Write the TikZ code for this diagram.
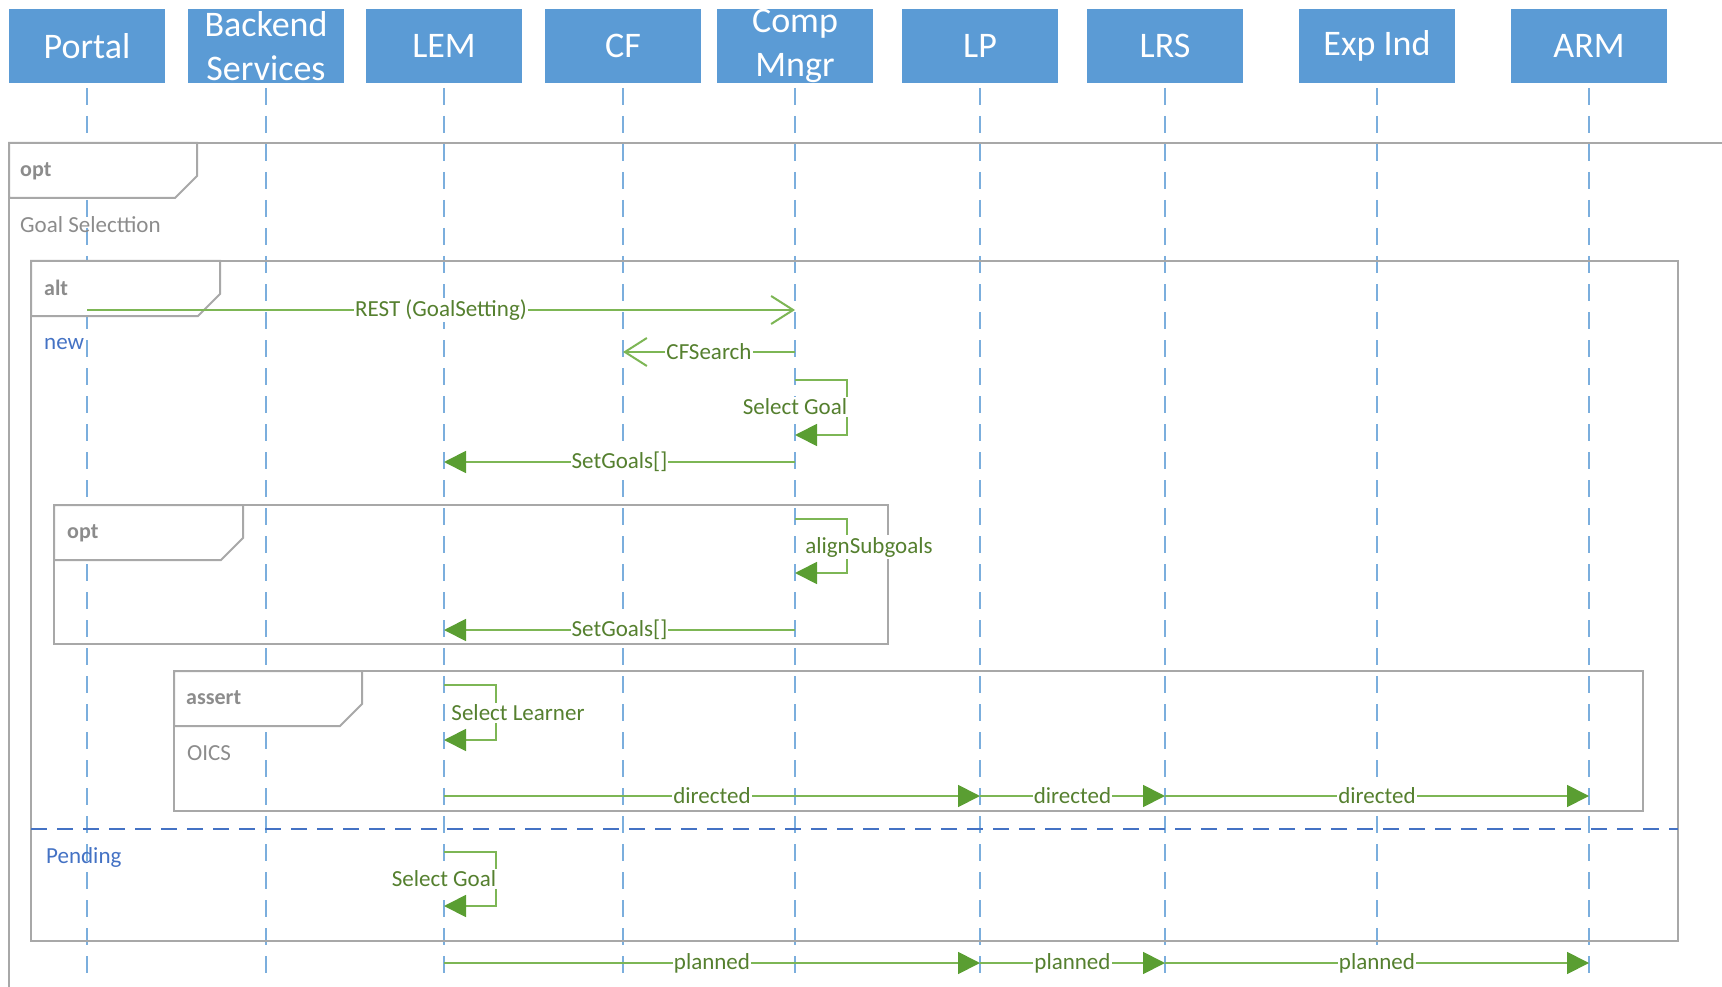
\documentclass[tikz,border=0pt]{standalone}
\usepackage{fontspec}
\setmainfont{Carlito}
\usetikzlibrary{arrows.meta}

\definecolor{headblue}{HTML}{5B9BD5}
\definecolor{lifeblue}{HTML}{7BAEDD}
\definecolor{guardblue}{HTML}{4472C4}
\definecolor{framegray}{HTML}{A8A8A8}
\definecolor{fragtextgray}{HTML}{8C8C8C}
\definecolor{msggreen}{HTML}{7DB655}
\definecolor{tipgreen}{HTML}{5A9E32}
\definecolor{labelgreen}{HTML}{55802F}

\tikzset{
  head/.style={fill=headblue, text=white, minimum width=156pt, minimum height=74pt,
               inner xsep=0pt, inner ysep=-5pt, align=center,
               font=\fontsize{36}{44}\selectfont},
  lifeline/.style={lifeblue, line width=2pt, dash pattern=on 17pt off 11pt},
  frameline/.style={framegray, line width=2pt},
  fragtab/.style={framegray, line width=2pt, fill=white},
  fragtext/.style={text=fragtextgray, anchor=west, inner sep=0pt,
                   font=\fontsize{22}{26}\selectfont\bfseries},
  fragnote/.style={text=fragtextgray, anchor=west, inner sep=0pt,
                   font=\fontsize{23}{27}\selectfont},
  guard/.style={text=guardblue, anchor=west, inner sep=0pt,
                font=\fontsize{23}{27}\selectfont},
  separator/.style={guardblue, line width=2pt, dash pattern=on 16pt off 10pt},
  msg/.style={msggreen, line width=1.8pt},
  sync/.style={msg, -{Triangle[length=22pt, width=22pt, color=tipgreen]}},
  async/.style={msg, -{Straight Barb[length=22pt, width=28pt, line width=2pt]}},
  msglabel/.style={fill=white, text=labelgreen, inner xsep=1pt, inner ysep=2pt,
                   font=\fontsize{23}{27}\selectfont},
}

\begin{document}
\begin{tikzpicture}[x=1pt, y=-1pt]
\useasboundingbox (0,0) rectangle (1722,987);

% participants
\node[head] (portal)  at (87,46)   {Portal};
\node[head] (backend) at (266,46)  {Backend\\Services};
\node[head] (lem)     at (444,46)  {LEM};
\node[head] (cf)      at (623,46)  {CF};
\node[head] (comp)    at (795,46)  {Comp\\Mngr};
\node[head] (lp)      at (980,46)  {LP};
\node[head] (lrs)     at (1165,46) {LRS};
\node[head] (expind)  at (1377,46) {Exp Ind};
\node[head] (arm)     at (1589,46) {ARM};

% lifelines
\foreach \p in {portal,backend,lem,cf,comp,lp,lrs,expind,arm}
  \draw[lifeline] (\p |- 0,88) -- (\p |- 0,981);

% outer opt fragment
\draw[frameline] (9,987) -- (9,143) -- (1722,143);
\draw[fragtab] (9,143) -- (197,143) -- (197,176) -- (175,198) -- (9,198) -- cycle;
\node[fragtext] (opttag) at (20,171) {opt};
\node[fragnote] (optnote) at (20,225) {Goal Selecttion};

% alt fragment
\draw[frameline] (31,261) rectangle (1678,941);
\draw[fragtab] (31,261) -- (220,261) -- (220,294) -- (198,316) -- (31,316) -- cycle;
\node[fragtext] (alttag) at (44,288) {alt};
\node[guard] (newguard) at (44,344) {new};
\draw[separator] (31,829) -- (1678,829);
\node[guard] (pendguard) at (46,857) {Pending};

% inner opt fragment
\draw[frameline] (54,505) rectangle (888,644);
\draw[fragtab] (54,505) -- (243,505) -- (243,538) -- (221,560) -- (54,560) -- cycle;
\node[fragtext] (opttag2) at (67,533) {opt};

% assert fragment
\draw[frameline] (174,671) rectangle (1643,811);
\draw[fragtab] (174,671) -- (362,671) -- (362,704) -- (340,726) -- (174,726) -- cycle;
\node[fragtext] (asserttag) at (186,698) {assert};
\node[fragnote] (assertnote) at (187,753) {OICS};

% messages
\draw[async] (portal |- 0,310) -- node[msglabel] (rest) {REST (GoalSetting)} (comp |- 0,310);
\draw[async] (comp |- 0,352) -- node[msglabel] (cfsearch) {CFSearch} (cf |- 0,352);

\draw[sync] (comp |- 0,380) -- ++(52,0) -- ++(0,55) -- (comp |- 0,435);
\node[msglabel] (selgoal) at (comp |- 0,407) {Select Goal};

\draw[sync] (comp |- 0,462) -- node[msglabel] (setgoals) {SetGoals[]} (lem |- 0,462);

\draw[sync] (comp |- 0,519) -- ++(52,0) -- ++(0,54) -- (comp |- 0,573);
\node[msglabel] (align) at (869,547) {alignSubgoals};

\draw[sync] (comp |- 0,630) -- node[msglabel] (setgoals2) {SetGoals[]} (lem |- 0,630);

\draw[sync] (lem |- 0,685) -- ++(52,0) -- ++(0,55) -- (lem |- 0,740);
\node[msglabel] (sellearner) at (518,713) {Select Learner};

\draw[sync] (lem |- 0,796) -- node[msglabel] (dir1) {directed} (lp |- 0,796);
\draw[sync] (lp |- 0,796) -- node[msglabel] (dir2) {directed} (lrs |- 0,796);
\draw[sync] (lrs |- 0,796) -- node[msglabel] (dir3) {directed} (arm |- 0,796);

\draw[sync] (lem |- 0,852) -- ++(52,0) -- ++(0,54) -- (lem |- 0,906);
\node[msglabel] (selgoal2) at (lem |- 0,879) {Select Goal};

\draw[sync] (lem |- 0,963) -- node[msglabel] (plan1) {planned} (lp |- 0,963);
\draw[sync] (lp |- 0,963) -- node[msglabel] (plan2) {planned} (lrs |- 0,963);
\draw[sync] (lrs |- 0,963) -- node[msglabel] (plan3) {planned} (arm |- 0,963);
\end{tikzpicture}
\end{document}
